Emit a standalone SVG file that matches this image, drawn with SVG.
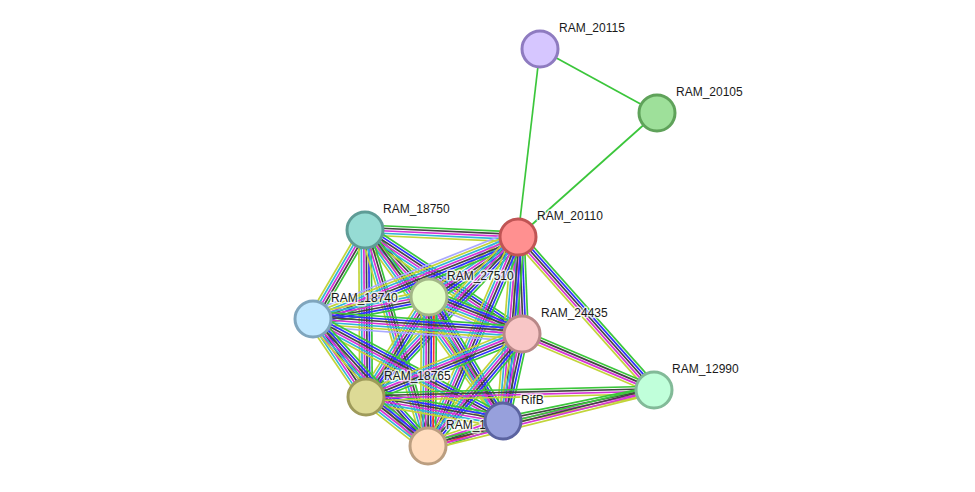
<svg xmlns="http://www.w3.org/2000/svg" xmlns:xlink="http://www.w3.org/1999/xlink" width="975" height="492" viewBox="0 0 975 492">
<style>
line{vector-effect:non-scaling-stroke;stroke-width:1.7;fill:none}
.g{stroke:#3bc63b}.r{stroke:#ff3030}.b{stroke:#3030ff}.k{stroke:#444444}
.m{stroke:#d633d6}.c{stroke:#33b5d6}.y{stroke:#c2d43a}.v{stroke:#a9a9ff}
circle{stroke-width:3}
text{font-family:"Liberation Sans",Arial,sans-serif;font-size:12px;fill:#1a1a1a;stroke:#ffffff;stroke-opacity:0.75;stroke-width:3;paint-order:stroke;stroke-linejoin:round}
</style>
<defs>
<g id="c4"><line class="g" x1="0" y1="-3.75" x2="1" y2="-3.75"/><line class="k" x1="0" y1="-1.25" x2="1" y2="-1.25"/><line class="m" x1="0" y1="1.25" x2="1" y2="1.25"/><line class="y" x1="0" y1="3.75" x2="1" y2="3.75"/></g>
<g id="c5a"><line class="g" x1="0" y1="-5" x2="1" y2="-5"/><line class="k" x1="0" y1="-2.5" x2="1" y2="-2.5"/><line class="m" x1="0" y1="0" x2="1" y2="0"/><line class="c" x1="0" y1="2.5" x2="1" y2="2.5"/><line class="y" x1="0" y1="5" x2="1" y2="5"/></g>
<g id="c5b"><line class="g" x1="0" y1="-5" x2="1" y2="-5"/><line class="b" x1="0" y1="-2.5" x2="1" y2="-2.5"/><line class="k" x1="0" y1="0" x2="1" y2="0"/><line class="m" x1="0" y1="2.5" x2="1" y2="2.5"/><line class="y" x1="0" y1="5" x2="1" y2="5"/></g>
<g id="c5r"><line class="g" x1="0" y1="-5" x2="1" y2="-5"/><line class="r" x1="0" y1="-2.5" x2="1" y2="-2.5"/><line class="k" x1="0" y1="0" x2="1" y2="0"/><line class="m" x1="0" y1="2.5" x2="1" y2="2.5"/><line class="y" x1="0" y1="5" x2="1" y2="5"/></g>
<g id="c6"><line class="g" x1="0" y1="-6.25" x2="1" y2="-6.25"/><line class="b" x1="0" y1="-3.75" x2="1" y2="-3.75"/><line class="k" x1="0" y1="-1.25" x2="1" y2="-1.25"/><line class="m" x1="0" y1="1.25" x2="1" y2="1.25"/><line class="c" x1="0" y1="3.75" x2="1" y2="3.75"/><line class="y" x1="0" y1="6.25" x2="1" y2="6.25"/></g>
<g id="c7v"><line class="g" x1="0" y1="-7.5" x2="1" y2="-7.5"/><line class="b" x1="0" y1="-5" x2="1" y2="-5"/><line class="k" x1="0" y1="-2.5" x2="1" y2="-2.5"/><line class="m" x1="0" y1="0" x2="1" y2="0"/><line class="c" x1="0" y1="2.5" x2="1" y2="2.5"/><line class="y" x1="0" y1="5" x2="1" y2="5"/><line class="v" x1="0" y1="7.5" x2="1" y2="7.5"/></g>
<g id="c7r"><line class="g" x1="0" y1="-7.5" x2="1" y2="-7.5"/><line class="r" x1="0" y1="-5" x2="1" y2="-5"/><line class="b" x1="0" y1="-2.5" x2="1" y2="-2.5"/><line class="k" x1="0" y1="0" x2="1" y2="0"/><line class="m" x1="0" y1="2.5" x2="1" y2="2.5"/><line class="c" x1="0" y1="5" x2="1" y2="5"/><line class="y" x1="0" y1="7.5" x2="1" y2="7.5"/></g>
</defs>
<rect width="975" height="492" fill="#ffffff"/>
<g id="edges">
<line class="g" x1="540" y1="49" x2="657" y2="113"/>
<line class="g" x1="540" y1="49" x2="518" y2="237"/>
<line class="g" x1="657" y1="113" x2="518" y2="237"/>
<use href="#c5a" transform="matrix(153 7 -0.0457 0.9990 365 230)"/>
<use href="#c5a" transform="matrix(64 67 -0.7231 0.6907 365 230)"/>
<use href="#c5a" transform="matrix(-52 89 -0.8634 -0.5045 365 230)"/>
<use href="#c6" transform="matrix(157 104 -0.5523 0.8337 365 230)"/>
<use href="#c6" transform="matrix(1 167 -1 0.006 365 230)"/>
<use href="#c5a" transform="matrix(138 191 -0.8106 0.5856 365 230)"/>
<use href="#c5a" transform="matrix(63 216 -0.96 0.28 365 230)"/>
<use href="#c7v" transform="matrix(-89 60 -0.5590 -0.8291 518 237)"/>
<use href="#c7v" transform="matrix(-205 82 -0.3714 -0.9285 518 237)"/>
<use href="#c6" transform="matrix(4 97 -0.9991 0.0412 518 237)"/>
<use href="#c6" transform="matrix(-152 160 -0.7250 -0.6888 518 237)"/>
<use href="#c6" transform="matrix(-15 184 -0.9967 -0.0813 518 237)"/>
<use href="#c6" transform="matrix(-90 209 -0.9185 -0.3955 518 237)"/>
<use href="#c5b" transform="matrix(136 153 -0.7474 0.6644 518 237)"/>
<use href="#c6" transform="matrix(-116 22 -0.1863 -0.9825 429 297)"/>
<use href="#c7v" transform="matrix(93 37 -0.3697 0.9292 429 297)"/>
<use href="#c6" transform="matrix(-63 100 -0.8461 -0.5330 429 297)"/>
<use href="#c6" transform="matrix(74 124 -0.8587 0.5125 429 297)"/>
<use href="#c7r" transform="matrix(-1 149 -1 -0.0067 429 297)"/>
<use href="#c7v" transform="matrix(209 15 -0.0716 0.9974 313 319)"/>
<use href="#c6" transform="matrix(53 78 -0.8271 0.5620 313 319)"/>
<use href="#c6" transform="matrix(190 102 -0.4730 0.8811 313 319)"/>
<use href="#c6" transform="matrix(115 127 -0.7413 0.6712 313 319)"/>
<use href="#c6" transform="matrix(-156 63 -0.3745 -0.9272 522 334)"/>
<use href="#c6" transform="matrix(-19 87 -0.9770 -0.2134 522 334)"/>
<use href="#c6" transform="matrix(-94 112 -0.7660 -0.6429 522 334)"/>
<use href="#c4" transform="matrix(132 56 -0.3905 0.9206 522 334)"/>
<use href="#c6" transform="matrix(137 24 -0.1726 0.9850 366 397)"/>
<use href="#c6" transform="matrix(62 49 -0.6200 0.7845 366 397)"/>
<use href="#c4" transform="matrix(288 -7 0.0243 0.9997 366 397)"/>
<use href="#c5r" transform="matrix(-75 25 -0.3162 -0.9487 503 421)"/>
<use href="#c4" transform="matrix(151 -31 0.2011 0.9796 503 421)"/>
<use href="#c4" transform="matrix(226 -56 0.2405 0.9706 428 446)"/>
</g>
<g id="RAM_20115"><circle cx="540" cy="49" r="18" fill="#d6c6ff" stroke="#8e7bc0"/><text x="559" y="32">RAM_20115</text></g>
<g id="RAM_20105"><circle cx="657" cy="113" r="18" fill="#9ee09a" stroke="#5fa25a"/><text x="676" y="96">RAM_20105</text></g>
<g id="RAM_20110"><circle cx="518" cy="237" r="18" fill="#ff9090" stroke="#c05454"/><text x="537" y="220">RAM_20110</text></g>
<g id="RAM_18750"><circle cx="365" cy="230" r="18" fill="#96dcd4" stroke="#5e9c96"/><text x="383" y="213">RAM_18750</text></g>
<g id="RAM_27510"><circle cx="429" cy="297" r="18" fill="#e2ffc6" stroke="#a2b687"/><text x="447" y="280">RAM_27510</text></g>
<g id="RAM_18740"><circle cx="313" cy="319" r="18" fill="#c2e8ff" stroke="#7fa5bd"/><text x="331" y="302">RAM_18740</text></g>
<g id="RAM_24435"><circle cx="522" cy="334" r="18" fill="#f8c6c6" stroke="#b88888"/><text x="541" y="317">RAM_24435</text></g>
<g id="RAM_12990"><circle cx="654" cy="390" r="18" fill="#c0ffda" stroke="#82ba98"/><text x="672" y="373">RAM_12990</text></g>
<g id="RAM_18765"><circle cx="366" cy="397" r="18" fill="#ddda96" stroke="#9e9a5a"/><text x="384" y="380">RAM_18765</text></g>
<g id="RAM_1"><circle cx="428" cy="446" r="18" fill="#ffdcbe" stroke="#bb9e80"/><text x="446" y="429">RAM_1</text></g>
<g id="RifB"><circle cx="503" cy="421" r="18" fill="#97a0dc" stroke="#5b63a0"/><text x="521" y="404">RifB</text></g>
</svg>
